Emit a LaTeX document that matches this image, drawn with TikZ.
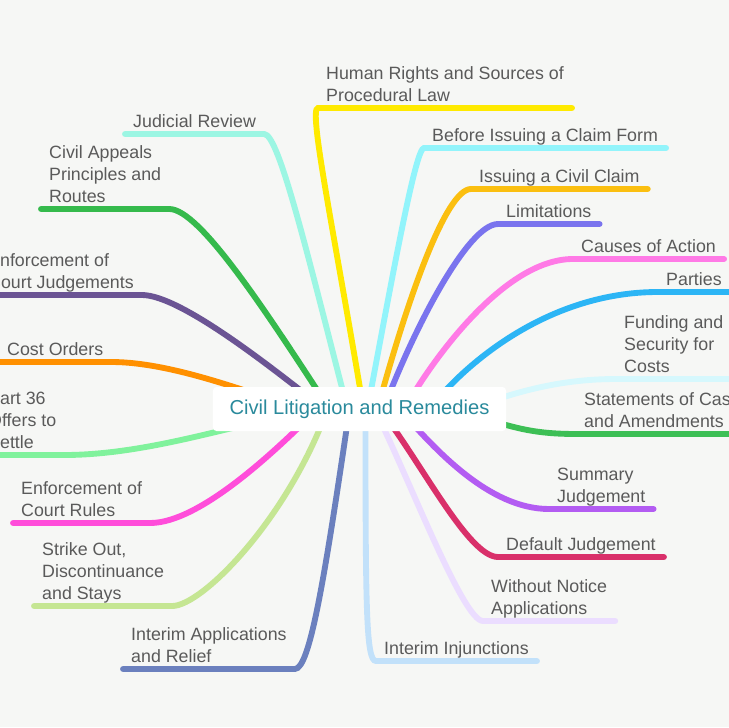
\documentclass[tikz,border=0pt]{standalone}
\usepackage{fontspec}
\setmainfont{Liberation Sans}
\usetikzlibrary{backgrounds}
\definecolor{bgc}{HTML}{F6F7F5}
\definecolor{txtc}{HTML}{5A5A5A}
\definecolor{rootc}{HTML}{2A8A9C}
\definecolor{hrc}{HTML}{FFEA00}
\definecolor{bfc}{HTML}{92F4FB}
\definecolor{icc}{HTML}{FBBF10}
\definecolor{limc}{HTML}{7A74EE}
\definecolor{coac}{HTML}{FF7AE6}
\definecolor{parc}{HTML}{2CB5F5}
\definecolor{fundc}{HTML}{D6F8FD}
\definecolor{stcc}{HTML}{3DBF55}
\definecolor{sjc}{HTML}{B35CF2}
\definecolor{djc}{HTML}{D9306A}
\definecolor{wnc}{HTML}{EBDDFF}
\definecolor{iic}{HTML}{C2E1FA}
\definecolor{jrc}{HTML}{9CF6E3}
\definecolor{cac}{HTML}{35BA4C}
\definecolor{ecjc}{HTML}{6B5494}
\definecolor{coc}{HTML}{FF9000}
\definecolor{pc}{HTML}{80F29C}
\definecolor{ecrc}{HTML}{FF4DDA}
\definecolor{soc}{HTML}{C5E693}
\definecolor{iarc}{HTML}{6B80BE}

\begin{document}
\begin{tikzpicture}
[x=0.03cm,y=-0.03cm,
root/.style={draw=none,fill=white,rounded corners=3pt,minimum width=8.79cm,minimum height=1.32cm,
  text=rootc,font=\fontsize{17.2}{20}\selectfont},
topic/.style={anchor=south west,align=left,text=txtc,inner xsep=0.24cm,inner ysep=0.1cm,
  text depth=0.1cm,font=\fontsize{15.2}{18.8}\selectfont},
branch/.style={draw=#1,line width=5pt,line cap=round}]
%%
\useasboundingbox (0,0) rectangle (729,727);
\begin{pgfonlayer}{background}
\fill[bgc] (0,0) rectangle (729,727);
\end{pgfonlayer}
%%
\node[root] (root) at (359.5,409) {Civil Litigation and Remedies};
%%
%%%%%%%%%%%%%%%%%%
% Right side
%%%%%%%%%%%%%%%%%%
\node[topic] (hr) at (318,108) {Human Rights and Sources of\\Procedural Law};
\node[topic] (bf) at (424,148) {Before Issuing a Claim Form};
\node[topic] (ic) at (471,189) {Issuing a Civil Claim};
\node[topic] (lim) at (498,224) {Limitations};
\node[topic] (coa) at (573,259) {Causes of Action};
\node[topic] (par) at (658,292) {Parties};
\node[topic] (fund) at (616,379) {Funding and\\Security for\\Costs};
\node[topic] (stc) at (576,434) {Statements of Case\\and Amendments};
\node[topic] (sj) at (549,509) {Summary\\Judgement};
\node[topic] (dj) at (498,557) {Default Judgement};
\node[topic] (wn) at (483,621) {Without Notice\\Applications};
\node[topic] (ii) at (376,661) {Interim Injunctions};
%%
%%%%%%%%%%%%%%%%%%
% Left side
%%%%%%%%%%%%%%%%%%
\node[topic] (jr) at (125,134) {Judicial Review};
\node[topic] (ca) at (41,209) {Civil Appeals\\Principles and\\Routes};
\node[topic] (ecj) at (-20,295) {Enforcement of\\Court Judgements};
\node[topic] (co) at (-1,362) {Cost Orders};
\node[topic] (p36) at (-20,455) {Part 36\\Offers to\\Settle};
\node[topic] (ecr) at (13,523) {Enforcement of\\Court Rules};
\node[topic] (so) at (34,606) {Strike Out,\\Discontinuance\\and Stays};
\node[topic] (iar) at (123,669) {Interim Applications\\and Relief};
%%
\begin{pgfonlayer}{background}
%% right branches
\draw[branch=hrc] (root.center) ++(4,0) .. controls +(-30,-180) and +(-10,0) .. (hr.south west) -- (hr.south east);
\draw[branch=bfc] (root.center) ++(8,0) .. controls +(28,-150) and +(-8,0) .. (bf.south west) -- (bf.south east);
\draw[branch=icc] (root.center) ++(18,0) .. controls +(30,-110) and +(-25,0) .. (ic.south west) -- (ic.south east);
\draw[branch=limc] (root.center) ++(24,0) .. controls +(30,-80) and +(-30,0) .. (lim.south west) -- (lim.south east);
\draw[branch=coac] (root.center) ++(45,0) .. controls +(25,-45) and +(-70,0) .. (coa.south west) -- (coa.south east);
\draw[branch=parc] (root.center) ++(70,0) .. controls +(35,-45) and +(-110,0) .. (par.south west) -- (par.south east);
\draw[branch=fundc] (root.center) ++(110,0) .. controls +(40,-15) and +(-60,0) .. (fund.south west) -- (fund.south east);
\draw[branch=stcc] (root.center) ++(110,6) .. controls +(40,10) and +(-50,0) .. (stc.south west) -- (stc.south east);
\draw[branch=sjc] (root.center) ++(40,0) .. controls +(35,40) and +(-60,0) .. (sj.south west) -- (sj.south east);
\draw[branch=djc] (root.center) ++(20,0) .. controls +(40,50) and +(-30,0) .. (dj.south west) -- (dj.south east);
\draw[branch=wnc] (root.center) ++(15,0) .. controls +(35,70) and +(-20,0) .. (wn.south west) -- (wn.south east);
\draw[branch=iic] (root.center) ++(6,0) .. controls +(0,200) and +(-10,0) .. (ii.south west) -- (ii.south east);
%% left branches
\draw[branch=jrc] (root.center) ++(-12,0) .. controls +(-39,-150) and +(15,0) .. (jr.south east) -- (jr.south west);
\draw[branch=cac] (root.center) ++(-30,0) .. controls +(-65,-100) and +(30,0) .. (ca.south east) -- (ca.south west);
\draw[branch=ecjc] (root.center) ++(-35,0) .. controls +(-45,-35) and +(40,0) .. (ecj.south east) -- (ecj.south west);
\draw[branch=coc] (root.center) ++(-70,-4) .. controls +(-40,-12) and +(60,0) .. (co.south east) -- (co.south west);
\draw[branch=pc] (root.center) ++(-80,9) .. controls +(-50,8) and +(80,0) .. (p36.south east) -- (p36.south west);
\draw[branch=ecrc] (root.center) ++(-42,0) .. controls +(-40,40) and +(50,0) .. (ecr.south east) -- (ecr.south west);
\draw[branch=soc] (root.center) ++(-32,0) .. controls +(-40,110) and +(30,0) .. (so.south east) -- (so.south west);
\draw[branch=iarc] (root.center) ++(-10,0) .. controls +(-25,170) and +(15,0) .. (iar.south east) -- (iar.south west);
\end{pgfonlayer}
%%
\end{tikzpicture}
\end{document}
